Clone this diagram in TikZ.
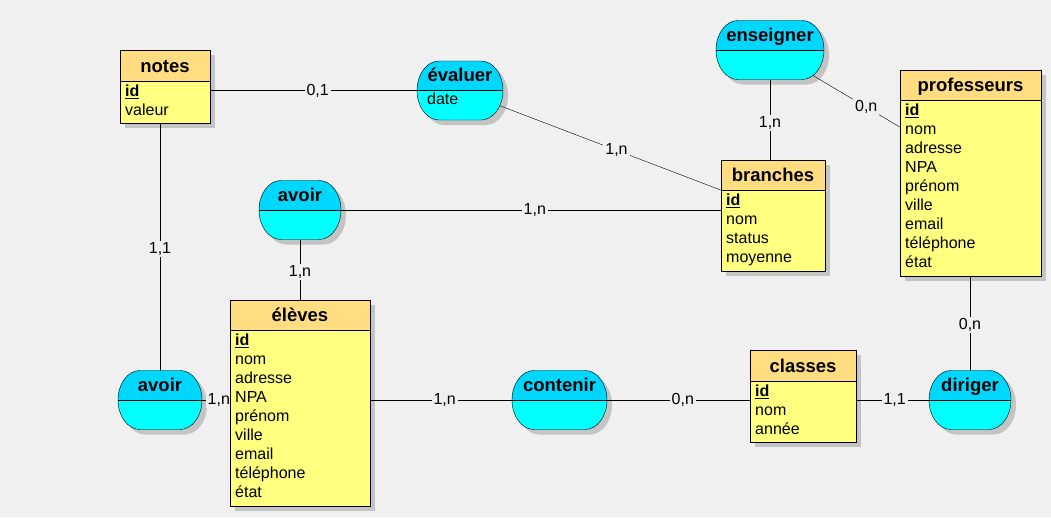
\documentclass[tikz,border=0pt]{standalone}
\usepackage{fontspec}
\setmainfont{Liberation Sans}
\definecolor{bgcol}{HTML}{F0F0F0}
\definecolor{shadowgray}{HTML}{C4C4C4}
\definecolor{headcol}{HTML}{FFDD80}
\definecolor{bodycol}{HTML}{FFFF80}
\definecolor{reltop}{HTML}{00D7FF}
\definecolor{relbot}{HTML}{00FFFF}
\pgfdeclarelayer{bglayer}
\pgfdeclarelayer{shadowlayer}
\pgfdeclarelayer{linelayer}
\pgfsetlayers{bglayer,shadowlayer,linelayer,main}
\newcommand\pkline[1]{\setbox0\hbox{#1}\rlap{\rule[-2.6pt]{\wd0}{1.4pt}}\box0}
\tikzset{
  titlefont/.style={font=\fontsize{18.5}{22}\selectfont\bfseries, inner sep=0pt},
  attrfont/.style={font=\fontsize{16}{19}\selectfont, inner sep=0pt},
  lbl/.style={font=\fontsize{16}{19}\selectfont, fill=bgcol, inner xsep=2pt, inner ysep=1.5pt},
  entbox/.style={rectangle, fill=bodycol, inner sep=0pt, outer sep=0pt},
  relshape/.style={insert path={({-\hw+22},-29.5) -- ({\hw-22},-29.5)
     .. controls ({\hw-9.85},-29.5) and (\hw,-16.3) .. (\hw,0)
     .. controls (\hw,16.3) and ({\hw-9.85},29.5) .. ({\hw-22},29.5)
     -- ({-\hw+22},29.5)
     .. controls ({-\hw+9.85},29.5) and (-\hw,16.3) .. (-\hw,0)
     .. controls (-\hw,-16.3) and ({-\hw+9.85},-29.5) .. cycle}}
}
% #1 name, #2 x1, #3 y1, #4 x2, #5 y2, #6 header bottom, #7 title, #8 attributes
\newcommand\entity[8]{%
  \begin{pgfonlayer}{shadowlayer}
    \fill[shadowgray] (#2+5,#3+5) rectangle (#4+5,#5+5);
  \end{pgfonlayer}
  \node[entbox, minimum width=#4-#2, minimum height=#5-#3] (#1) at ({(#2+#4)/2},{(#3+#5)/2}) {};
  \fill[headcol] (#2,#3) rectangle (#4,#6);
  \draw (#2,#6) -- (#4,#6);
  \draw (#2,#3) rectangle (#4,#5);
  \node[titlefont, anchor=base] (#1-t) at ({(#2+#4)/2},#6-8.7) {#7};
  \foreach \a [count=\i] in {#8}{%
    \node[attrfont, anchor=base west] (#1-a\i) at (#2+5,{#6+15.5+19*(\i-1)}) {\a};
  }%
}
% #1 name, #2 cx, #3 cy, #4 half width, #5 title
\newcommand\relation[5]{%
  \def\hw{#4}%
  \begin{pgfonlayer}{shadowlayer}
    \begin{scope}[shift={(#2+5,#3+5)}]
      \fill[shadowgray, relshape];
    \end{scope}
  \end{pgfonlayer}
  \node[inner sep=0pt, outer sep=0pt, minimum width=2*#4, minimum height=59] (#1) at (#2,#3) {};
  \begin{scope}[shift={(#2,#3)}]
    \fill[relbot, relshape];
    \begin{scope}
      \clip[relshape];
      \fill[reltop] (-#4-2,-31) rectangle (#4+2,0);
    \end{scope}
    \draw[relshape];
    \draw (-#4,0) -- (#4,0);
  \end{scope}
  \node[titlefont, anchor=base] (#1-t) at (#2,#3-9) {#5};
}
\begin{document}
\begin{tikzpicture}[x=1pt, y=-1pt, line width=1pt]
\begin{pgfonlayer}{bglayer}
  \fill[bgcol] (0,0) rectangle (1051,517);
\end{pgfonlayer}
\useasboundingbox (0,0) rectangle (1051,517);

\entity{notes}{120}{50}{210}{123}{81}{notes}{\pkline{\textbf{id}},valeur}
\entity{branches}{721}{160}{825}{271}{190}{branches}{\pkline{\textbf{id}},nom,status,moyenne}
\entity{professeurs}{900}{70}{1041}{276}{100}{professeurs}{\pkline{\textbf{id}},nom,adresse,NPA,prénom,ville,email,téléphone,état}
\entity{eleves}{230}{300}{370}{506}{330}{élèves}{\pkline{\textbf{id}},nom,adresse,NPA,prénom,ville,email,téléphone,état}
\entity{classes}{750}{350}{856}{442}{381}{classes}{\pkline{\textbf{id}},nom,année}

\relation{evaluer}{460}{90.5}{43}{évaluer}
\node[attrfont, anchor=base west] (evaluer-a) at (427,104.5) {date};
\relation{enseigner}{770}{50}{54}{enseigner}
\relation{avoirA}{300}{210}{41}{avoir}
\relation{avoirB}{160}{400}{42}{avoir}
\relation{contenir}{559.5}{400}{47.5}{contenir}
\relation{diriger}{970}{400}{41}{diriger}

\begin{pgfonlayer}{linelayer}
\draw (notes.east |- evaluer.center) -- node[lbl, pos=0.52] (c1) {0,1} (evaluer.west);
\draw (avoirB.center |- notes.south) -- node[lbl, pos=0.51] (c2) {1,1} (avoirB.north);
\draw (evaluer.center) -- node[lbl, pos=0.5] (c3) {1,n} ([yshift=5.5pt]branches.center);
\draw (enseigner.south) -- node[lbl, pos=0.54] (c4) {1,n} (enseigner.south |- branches.north);
\draw (enseigner.center) -- node[lbl, pos=0.48] (c5) {0,n} ([yshift=4pt]professeurs.center);
\draw (avoirA.east) -- node[lbl, pos=0.51] (c6) {1,n} (avoirA.east -| branches.west);
\draw (avoirA.south) -- node[lbl, pos=0.54] (c7) {1,n} (avoirA.south |- eleves.north);
\draw (avoirB.east) -- node[lbl, pos=0.6] (c8) {1,n} (avoirB.east -| eleves.west);
\draw (eleves.east |- contenir.center) -- node[lbl, pos=0.526] (c9) {1,n} (contenir.west);
\draw (contenir.east) -- node[lbl, pos=0.53] (c10) {0,n} (contenir.east -| classes.west);
\draw (classes.east |- diriger.center) -- node[lbl, pos=0.53] (c11) {1,1} (diriger.west);
\draw (diriger.center |- professeurs.south) -- node[lbl, pos=0.52] (c12) {0,n} (diriger.north);
\end{pgfonlayer}
\end{tikzpicture}
\end{document}
